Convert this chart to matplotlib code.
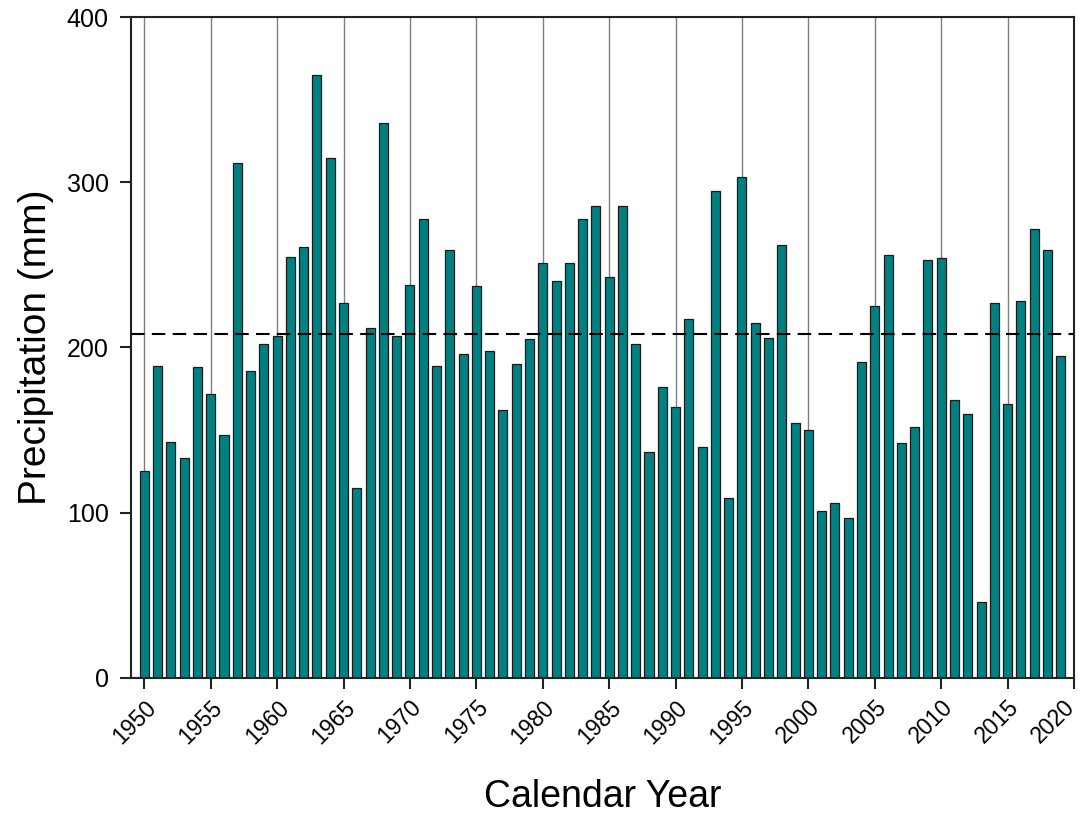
import numpy as np
import matplotlib
matplotlib.use("Agg")
import matplotlib.pyplot as plt
from matplotlib.transforms import ScaledTranslation

plt.rcParams['font.family'] = ['Liberation Sans', 'DejaVu Sans']

years = list(range(1950, 2020))
precip_mm = [
    125, 189, 143, 133, 188, 172, 147, 312, 186, 202,   # 1950s
    207, 255, 261, 365, 315, 227, 115, 212, 336, 207,   # 1960s
    238, 278, 189, 259, 196, 237, 198, 162, 190, 205,   # 1970s
    251, 240, 251, 278, 286, 243, 286, 202, 137, 176,   # 1980s
    164, 217, 140, 295, 109, 303, 215, 206, 262, 154,   # 1990s
    150, 101, 106, 97, 191, 225, 256, 142, 152, 253,    # 2000s
    254, 168, 160, 46, 227, 166, 228, 272, 259, 195,    # 2010s
]
long_term_mean = 208
x_ticks = list(range(1950, 2021, 5))
y_ticks = [0, 100, 200, 300, 400]

fig = plt.figure(figsize=(10.83, 8.16), dpi=100)
ax = fig.add_axes([0.121, 0.1695, 0.8707, 0.8093])

# five-year reference lines behind the bars
for xt in x_ticks:
    ax.axvline(xt, color='#7f7f7f', lw=1.0, zorder=0)

ax.bar(years, precip_mm, width=0.68, color='#008080', edgecolor='#1a1a1a',
       linewidth=0.9, zorder=2)

ax.axhline(long_term_mean, color='black', lw=1.5, ls=(0, (6.5, 3.5)), zorder=3)

ax.set_xlim(1949, 2020)
ax.set_ylim(0, 400)
ax.set_xticks(x_ticks)
ax.set_xticklabels([str(v) for v in x_ticks], rotation=45, ha='right',
                   rotation_mode='anchor', fontsize=16.5)
ax.set_yticks(y_ticks)
ax.set_yticklabels([str(v) for v in y_ticks], fontsize=18)
ax.tick_params(axis='both', direction='out', length=8, width=1.5, colors='#222222',
               labelcolor='black')
ax.tick_params(axis='y', pad=8)
ax.tick_params(axis='x', pad=5)

# keep the last year label inside the canvas
last = ax.get_xticklabels()[-1]
last.set_transform(last.get_transform() + ScaledTranslation(-11 / 100, 0, fig.dpi_scale_trans))

for sp in ax.spines.values():
    sp.set_linewidth(1.5)
    sp.set_color('#222222')

ax.set_xlabel('Calendar Year', fontsize=27, labelpad=22)
ax.set_ylabel('Precipitation (mm)', fontsize=28, labelpad=9)

fig.savefig('out.png', dpi=100)
